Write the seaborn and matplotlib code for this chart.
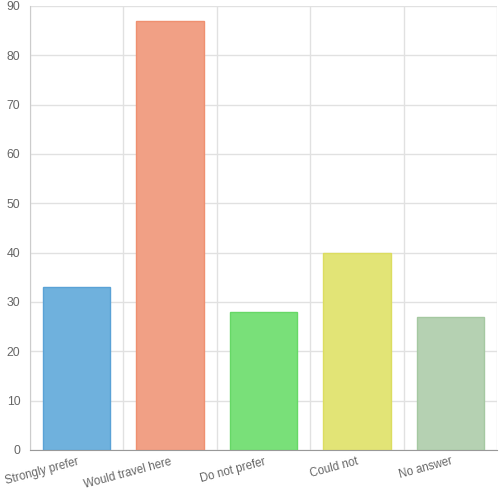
import pandas as pd
import matplotlib
matplotlib.use("Agg")
import matplotlib.pyplot as plt
import seaborn as sns
from matplotlib.ticker import FixedLocator, NullFormatter

# данные графика
categories = ["Strongly prefer", "Would travel here", "Do not prefer", "Could not", "No answer"]
values = [33, 87, 28, 40, 27]
colors = ["#6fb1dd", "#f1a085", "#79e079", "#e2e476", "#b5d1b2"]
edge_colors = ["#5aa2d6", "#ef9070", "#66d866", "#dcdd60", "#a5c8a1"]
y_ticks = [0, 10, 20, 30, 40, 50, 60, 70, 80, 90]

df = pd.DataFrame({"cat": categories, "val": values})

sns.set_style("white")
plt.rcParams["font.family"] = ["Liberation Sans", "DejaVu Sans"]

fig = plt.figure(figsize=(5, 5), dpi=100)
ax = fig.add_axes([0.06, 0.1, 0.934, 0.888])

sns.barplot(data=df, x="cat", y="val", hue="cat", palette=colors, legend=False,
            width=0.72, ax=ax, saturation=1)
for bar, ec in zip(ax.patches, edge_colors):
    bar.set_edgecolor(ec)
    bar.set_linewidth(1)

ax.set_xlim(-0.5, len(categories) - 0.5)
ax.set_ylim(0, 90)
ax.set_yticks(y_ticks)
ax.set_xlabel("")
ax.set_ylabel("")

# вертикальная сетка по границам категорий
ax.xaxis.set_minor_locator(FixedLocator([i - 0.5 for i in range(len(categories) + 1)]))
ax.xaxis.set_minor_formatter(NullFormatter())
ax.grid(True, which="minor", axis="x", color="#e1e1e1", linewidth=1)
ax.grid(True, which="major", axis="y", color="#e1e1e1", linewidth=1)
ax.set_axisbelow(True)

ax.tick_params(axis="x", which="major", length=0, pad=4)
ax.tick_params(axis="x", which="minor", length=5, color="#dddddd")
ax.tick_params(axis="y", length=5, color="#dddddd", pad=2, labelsize=8.8, labelcolor="#666666")
ax.set_xticks(range(len(categories)))
ax.set_xticklabels(categories, rotation=15, ha="right", rotation_mode="anchor",
                   fontsize=8.3, color="#666666")

for side in ["top", "right"]:
    ax.spines[side].set_visible(False)
ax.spines["left"].set_color("#cccccc")
ax.spines["bottom"].set_color("#999999")

fig.savefig("out.png", dpi=100)
